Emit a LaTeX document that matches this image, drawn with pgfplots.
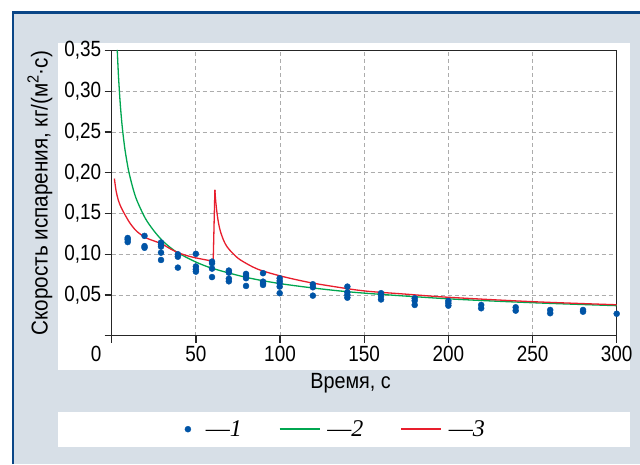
\documentclass[border=0pt]{standalone}
\usepackage{fontspec}
\setmainfont{Liberation Sans}[FakeStretch=0.87]
\newfontfamily\tickfont{Liberation Sans}[FakeStretch=0.86]
\newfontfamily\labfont{Liberation Sans}[FakeStretch=0.9]
\newfontfamily\legfont{Liberation Serif}
\usepackage{pgfplots}
\pgfplotsset{compat=1.18}

\definecolor{bgc}{RGB}{215,223,231}
\definecolor{framec}{RGB}{10,70,135}
\definecolor{dotblue}{RGB}{0,84,166}
\definecolor{lgreen}{RGB}{0,166,80}
\definecolor{lred}{RGB}{232,30,45}

\pgfplotsset{
  greenleg/.style={legend image code/.code={\draw[lgreen, line width=1.5pt] (0pt,0pt) -- (40pt,0pt);}},
  redleg/.style={legend image code/.code={\draw[lred, line width=1.5pt] (0pt,0pt) -- (40pt,0pt);}},
}

\begin{document}
\begin{tikzpicture}
\useasboundingbox (0,0) rectangle (640pt,-464pt);
\fill[white] (0,0) rectangle (640pt,-464pt);
\fill[bgc] (12pt,-12pt) rectangle (640pt,-464pt);
\draw[framec, line width=2.5pt] (13pt,-464pt) -- (13pt,-12.5pt) -- (640pt,-12.5pt);
\fill[white] (58pt,-43pt) rectangle (630pt,-370pt);
\fill[white] (58pt,-412pt) rectangle (630pt,-447pt);

\begin{axis}[
    at={(111.7pt,-335.7pt)}, anchor=south west,
    scale only axis, width=505pt, height=285pt,
    xmin=0, xmax=300, ymin=0, ymax=0.35,
    xtick={0,50,100,150,200,250,300},
    xticklabels={0\kern31pt,50,100,150,200,250,300},
    ytick={0,0.05,0.10,0.15,0.20,0.25,0.30,0.35},
    yticklabels={{},{0,05},{0,10},{0,15},{0,20},{0,25},{0,30},{0,35}},
    tick label style={font=\fontsize{22}{24}\selectfont\tickfont},
    tick align=outside, xtick pos=bottom, ytick pos=left,
    major tick length=7pt,
    tick style={line width=1.3pt, black!85},
    axis line style={line width=1.5pt, black!85},
    grid=major, grid style={gray!65, line width=0.9pt, dash pattern=on 4pt off 3pt},
    xlabel={Время, с},
    ylabel={Скорость испарения, кг/(м\textsuperscript{2}·с)},
    xlabel style={font=\fontsize{22}{24}\selectfont\labfont,
        at={(axis description cs:0.473,-0.165)}, anchor=center},
    ylabel style={font=\fontsize{23}{25}\selectfont\labfont,
        at={(axis description cs:-0.142,0.5)}, anchor=center},
    clip=false,
    legend columns=3,
    legend style={at={(axis description cs:0.444,-0.328)}, anchor=center,
        draw=none, fill=none, font=\fontsize{24}{26}\selectfont\legfont,
        /tikz/every even column/.append style={column sep=35pt}},
]
\addplot[only marks, mark=*, mark size=3pt, color=dotblue] coordinates {
    (9.5,0.120) (9.5,0.118) (9.5,0.115)
    (19.5,0.1226) (19.5,0.110) (19.5,0.108)
    (29.3,0.1144) (29.3,0.112) (29.3,0.1095) (29.3,0.102) (29.3,0.093)
    (39.3,0.100) (39.3,0.097) (39.3,0.0836)
    (50,0.1005) (50,0.085) (50,0.0815) (50,0.0787)
    (59.6,0.091) (59.6,0.089) (59.6,0.0824) (59.6,0.072)
    (69.6,0.080) (69.6,0.0775) (69.6,0.070) (69.6,0.0668)
    (79.8,0.0759) (79.8,0.0734) (79.8,0.0706) (79.8,0.0611)
    (89.9,0.0768) (89.9,0.0664) (89.9,0.0644) (89.9,0.0624)
    (99.8,0.0706) (99.8,0.0673) (99.8,0.0644) (99.8,0.0603) (99.8,0.0522)
    (119.5,0.0632) (119.5,0.0595) (119.5,0.0492)
    (140,0.0603) (140,0.0534) (140,0.050) (140,0.0467)
    (160,0.0522) (160,0.0488) (160,0.0445)
    (180,0.046) (180,0.043) (180,0.0378)
    (200,0.0427) (200,0.0399) (200,0.0369)
    (219.5,0.0378) (219.5,0.0337)
    (240,0.0349) (240,0.0308)
    (260.5,0.0316) (260.5,0.0276)
    (280,0.0316) (280,0.0295)
    (300,0.027)
};
\addlegendentry{\kern13pt—\textit{1}}
\addplot[lgreen, line width=1.3pt, smooth, tension=0.5, greenleg] coordinates {
    (3.3,0.351) (4,0.32) (5,0.287) (6,0.262) (7,0.243) (8,0.227) (10,0.203)
    (12.5,0.182) (15,0.166) (20,0.144) (25,0.129) (30,0.117) (35,0.108)
    (40,0.101) (50,0.0905) (60,0.0826) (80,0.0716) (100,0.064) (125,0.0573)
    (150,0.0523) (200,0.0453) (250,0.0405) (300,0.0369)
};
\addlegendentry{\kern5pt—\textit{2}}
\addplot[lred, line width=1.3pt, smooth, tension=0.5, redleg] coordinates {
    (1.6,0.193) (2.6,0.178) (4,0.166) (5.5,0.158) (7.5,0.150) (10,0.141)
    (12,0.135) (15,0.128) (20,0.1205) (25,0.1165) (30,0.1125) (35,0.1065)
    (40,0.1015) (47,0.097) (55,0.0935) (60.3,0.0915)
};
\addlegendentry{\kern5pt—\textit{3}}
\addplot[lred, line width=1.3pt, forget plot] coordinates {
    (60.3,0.0915) (61.3,0.179)
};
\addplot[lred, line width=1.3pt, smooth, tension=0.5, forget plot] coordinates {
    (61.3,0.179) (61.8,0.165) (62.6,0.150) (63.5,0.138) (64.6,0.128)
    (66.5,0.117) (68.6,0.109) (72,0.101) (76.5,0.093) (86.4,0.082)
    (100,0.0735) (116,0.066) (130,0.061) (150,0.055) (175,0.051)
    (200,0.0472) (250,0.0418) (300,0.038)
};
\end{axis}
\end{tikzpicture}
\end{document}
